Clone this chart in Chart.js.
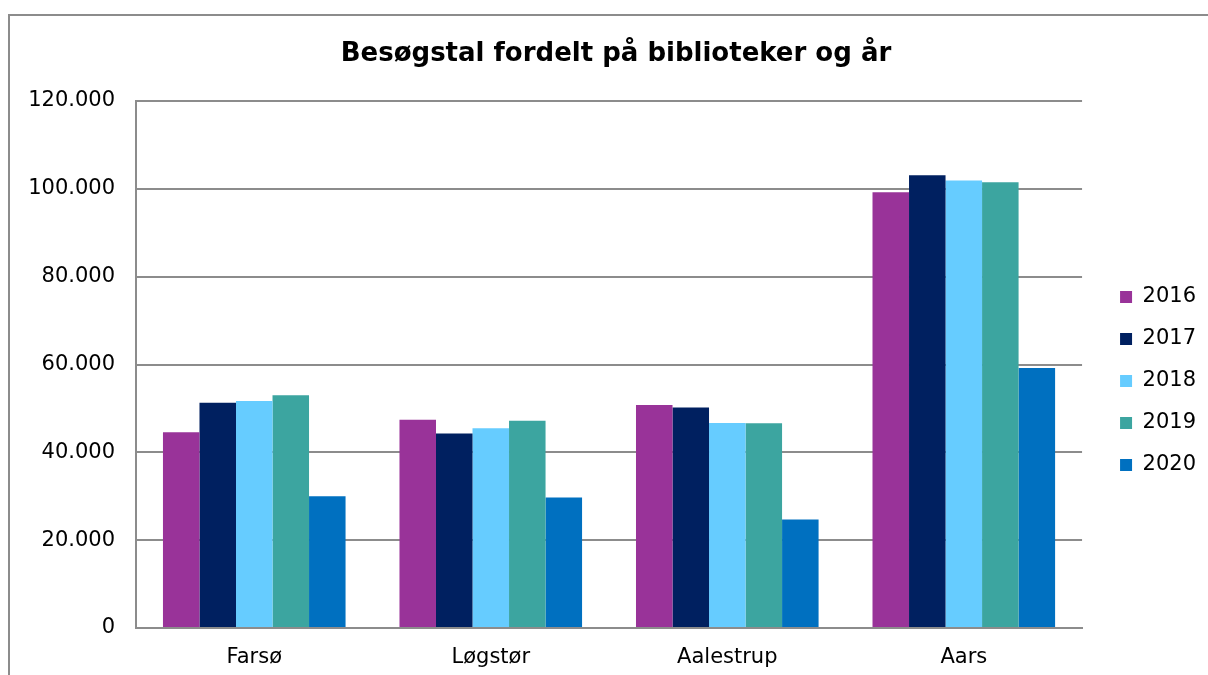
<!DOCTYPE html>
<html>
<head>
<meta charset="utf-8">
<script src="https://cdn.jsdelivr.net/npm/chart.js@4"></script>
<style>
html,body{margin:0;padding:0;background:#fff;}
#wrap{width:1208px;height:675px;position:relative;}
</style>
</head>
<body>
<div id="wrap"><canvas id="c" width="1208" height="675"></canvas></div>
<script>
const categories = ["Farsø", "Løgstør", "Aalestrup", "Aars"];
const years = ["2016", "2017", "2018", "2019", "2020"];
const v2016 = [44600, 47400, 50800, 99200];
const v2017 = [51300, 44300, 50200, 103100];
const v2018 = [51700, 45500, 46700, 101900];
const v2019 = [53000, 47200, 46600, 101500];
const v2020 = [30000, 29700, 24700, 59200];
const colors = ["#993399", "#002060", "#66CCFF", "#3CA5A0", "#0070C0"];
const yTicks = [0, 20000, 40000, 60000, 80000, 100000, 120000];

const seriesValues = [v2016, v2017, v2018, v2019, v2020];
const fmt = v => v === 0 ? "0" : String(v).replace(/\B(?=(\d{3})+(?!\d))/g, ".");
const FONT = "DejaVu Sans";

const frame = {
  id: "frame",
  beforeDraw(chart) {
    const ctx = chart.ctx;
    ctx.save();
    ctx.strokeStyle = "#8c8c8c";
    ctx.lineWidth = 2;
    ctx.strokeRect(9, 15, 1400, 800);
    ctx.restore();
  }
};

new Chart(document.getElementById("c"), {
  type: "bar",
  data: {
    labels: categories,
    datasets: years.map((y, i) => ({
      label: y,
      data: seriesValues[i],
      backgroundColor: colors[i],
      borderWidth: 0,
      categoryPercentage: 0.772,
      barPercentage: 1
    }))
  },
  options: {
    responsive: false,
    animation: false,
    devicePixelRatio: 1,
    layout: { padding: { left: 26, right: 2, top: 12, bottom: 5 } },
    plugins: {
      title: {
        display: true,
        text: "Besøgstal fordelt på biblioteker og år",
        color: "#000",
        font: { family: FONT, size: 26, weight: "bold" },
        padding: { top: 26.4, bottom: 31.4 }
      },
      legend: {
        position: "right",
        title: { display: true, text: " ", font: { size: 10 }, padding: { top: 34, bottom: 34 } },
        labels: {
          color: "#000",
          font: { family: FONT, size: 21 },
          boxWidth: 12,
          boxHeight: 12,
          padding: 21
        }
      },
      tooltip: { enabled: false }
    },
    scales: {
      x: {
        afterFit(axis) { axis.height = 42; },
        grid: { display: false, drawTicks: false },
        border: { color: "#8c8c8c", width: 2 },
        ticks: { color: "#000", font: { family: FONT, size: 21 }, padding: 17 }
      },
      y: {
        min: 0,
        max: 120000,
        afterBuildTicks(axis) { axis.ticks = yTicks.map(v => ({ value: v })); },
        afterFit(axis) { axis.width = 110; },
        grid: { color: "#8c8c8c", lineWidth: 2, drawTicks: false },
        border: { color: "#8c8c8c", width: 2 },
        ticks: { color: "#000", font: { family: FONT, size: 21 }, padding: 21, callback: v => fmt(v) }
      },
      gap: {
        position: "right",
        display: true,
        grid: { display: false, drawTicks: false },
        border: { display: false },
        ticks: { display: false },
        afterFit(axis) { axis.width = 17; }
      }
    }
  },
  plugins: [frame]
});
</script>
</body>
</html>
